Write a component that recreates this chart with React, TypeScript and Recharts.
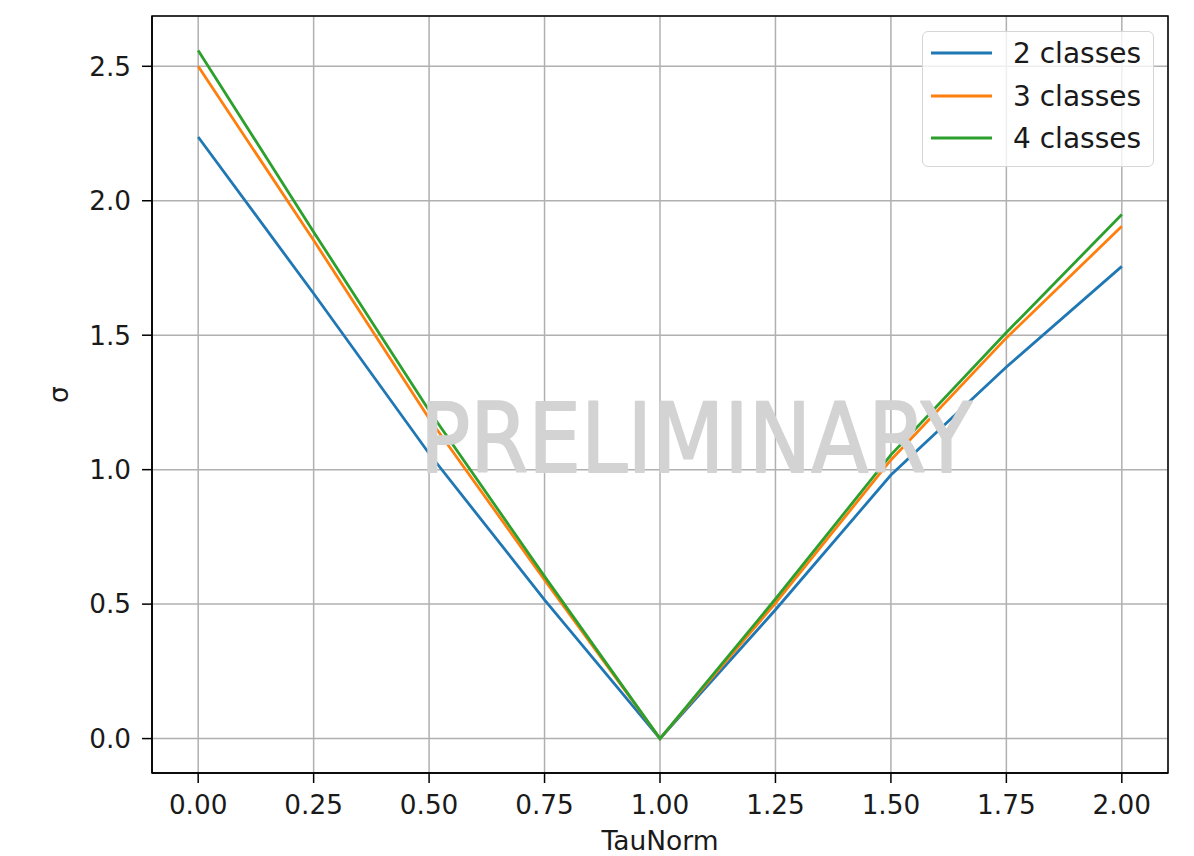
import React from 'react';
import { LineChart, Line, XAxis, YAxis, CartesianGrid, ReferenceArea } from 'recharts';

const tauNorm = [0, 0.25, 0.5, 0.75, 1, 1.25, 1.5, 1.75, 2];
const sigma2Classes = [2.237, 1.655, 1.06, 0.516, 0, 0.479, 0.98, 1.382, 1.756];
const sigma3Classes = [2.5, 1.853, 1.19, 0.59, 0, 0.504, 1.036, 1.49, 1.905];
const sigma4Classes = [2.559, 1.884, 1.22, 0.603, 0, 0.519, 1.055, 1.51, 1.949];

const xTicks = [0, 0.25, 0.5, 0.75, 1, 1.25, 1.5, 1.75, 2];
const yTicks = [0, 0.5, 1, 1.5, 2, 2.5];
const seriesKeys = ['s2', 's3', 's4'];
const seriesNames = ['2 classes', '3 classes', '4 classes'];
const seriesColors = ['#1f77b4', '#ff7f0e', '#2ca02c'];
const xLabel = 'TauNorm';
const yLabel = 'σ';
const watermark = 'PRELIMINARY';

const X_DOMAIN: [number, number] = [-0.1, 2.1];
const Y_DOMAIN: [number, number] = [-0.128, 2.687];

const data = tauNorm.map((t, i) => ({
  tau: t,
  s2: sigma2Classes[i],
  s3: sigma3Classes[i],
  s4: sigma4Classes[i],
}));

const FONT = '"DejaVu Sans", sans-serif';
const TEXT_COLOR = '#1a1a1a';
const TICK_FS = 26.3;

export default function App() {
  return (
    <div style={{ position: 'absolute', left: 0, top: 0, width: 1194, height: 856, background: '#fff', fontFamily: FONT }}>
      <LineChart
        width={1194}
        height={856}
        data={data}
        margin={{ top: 16, right: 26, bottom: 0, left: 0 }}
      >
        <CartesianGrid stroke="#b0b0b0" strokeWidth={1.5} />
        <XAxis
          dataKey="tau"
          type="number"
          domain={X_DOMAIN}
          ticks={xTicks}
          allowDataOverflow
          height={83}
          tickSize={10}
          tickMargin={12}
          tickFormatter={(v: number) => v.toFixed(2)}
          tick={{ fill: TEXT_COLOR, fontSize: TICK_FS, fontFamily: FONT }}
          axisLine={{ stroke: '#000', strokeWidth: 1.5 }}
          tickLine={{ stroke: '#000', strokeWidth: 1.5 }}
          label={{ value: xLabel, position: 'insideBottom', offset: 6, fill: TEXT_COLOR, fontSize: 26.5, fontFamily: FONT }}
        />
        <YAxis
          type="number"
          domain={Y_DOMAIN}
          ticks={yTicks}
          allowDataOverflow
          width={152}
          tickSize={10}
          tickMargin={11}
          tickFormatter={(v: number) => v.toFixed(1)}
          tick={{ fill: TEXT_COLOR, fontSize: TICK_FS, fontFamily: FONT }}
          axisLine={{ stroke: '#000', strokeWidth: 1.5 }}
          tickLine={{ stroke: '#000', strokeWidth: 1.5 }}
          label={{
            content: (props: any) => {
              const vb = props.viewBox || { x: 0, y: 16, width: 152, height: 757 };
              const cx = vb.x + 58;
              const cy = vb.y + vb.height / 2;
              return (
                <text
                  x={cx}
                  y={cy}
                  transform={`rotate(-90 ${cx} ${cy})`}
                  textAnchor="middle"
                  dominantBaseline="central"
                  fill={TEXT_COLOR}
                  fontSize={26.5}
                  fontFamily={FONT}
                >
                  {yLabel}
                </text>
              );
            },
          }}
        />
        {seriesKeys.map((k, i) => (
          <Line
            key={k}
            dataKey={k}
            name={seriesNames[i]}
            stroke={seriesColors[i]}
            strokeWidth={2.8}
            dot={false}
            activeDot={false}
            type="linear"
            isAnimationActive={false}
          />
        ))}
        <ReferenceArea
          x1={X_DOMAIN[0]}
          x2={X_DOMAIN[1]}
          y1={Y_DOMAIN[0]}
          y2={Y_DOMAIN[1]}
          fill="none"
          stroke="#000"
          strokeWidth={1.5}
          ifOverflow="visible"
        />
      </LineChart>

      <svg
        width={1194}
        height={856}
        style={{ position: 'absolute', left: 0, top: 0, pointerEvents: 'none' }}
      >
        <text
          x={696}
          y={472}
          textAnchor="middle"
          fontSize={96}
          fontFamily={FONT}
          fill="#d3d3d3"
          stroke="#d3d3d3"
          strokeWidth={2}
          strokeLinejoin="round"
          textLength={552}
          lengthAdjust="spacingAndGlyphs"
        >
          {watermark}
        </text>
      </svg>

      <div
        style={{
          position: 'absolute',
          left: 922,
          top: 31,
          width: 232,
          height: 136,
          boxSizing: 'border-box',
          border: '1.5px solid #d6d6d6',
          borderRadius: 6,
          background: 'rgba(255,255,255,0.8)',
          pointerEvents: 'none',
        }}
      >
        {seriesNames.map((n, i) => (
          <div
            key={n}
            style={{
              position: 'absolute',
              left: 0,
              top: i * 42.7,
              height: 42,
              width: '100%',
            }}
          >
            <svg width={232} height={42} style={{ position: 'absolute', left: 0, top: 0 }}>
              <line x1={8} x2={69} y1={21} y2={21} stroke={seriesColors[i]} strokeWidth={2.8} />
              <text
                x={90}
                y={21}
                dominantBaseline="central"
                fontSize={28}
                fontFamily={FONT}
                fill={TEXT_COLOR}
              >
                {n}
              </text>
            </svg>
          </div>
        ))}
      </div>
    </div>
  );
}
